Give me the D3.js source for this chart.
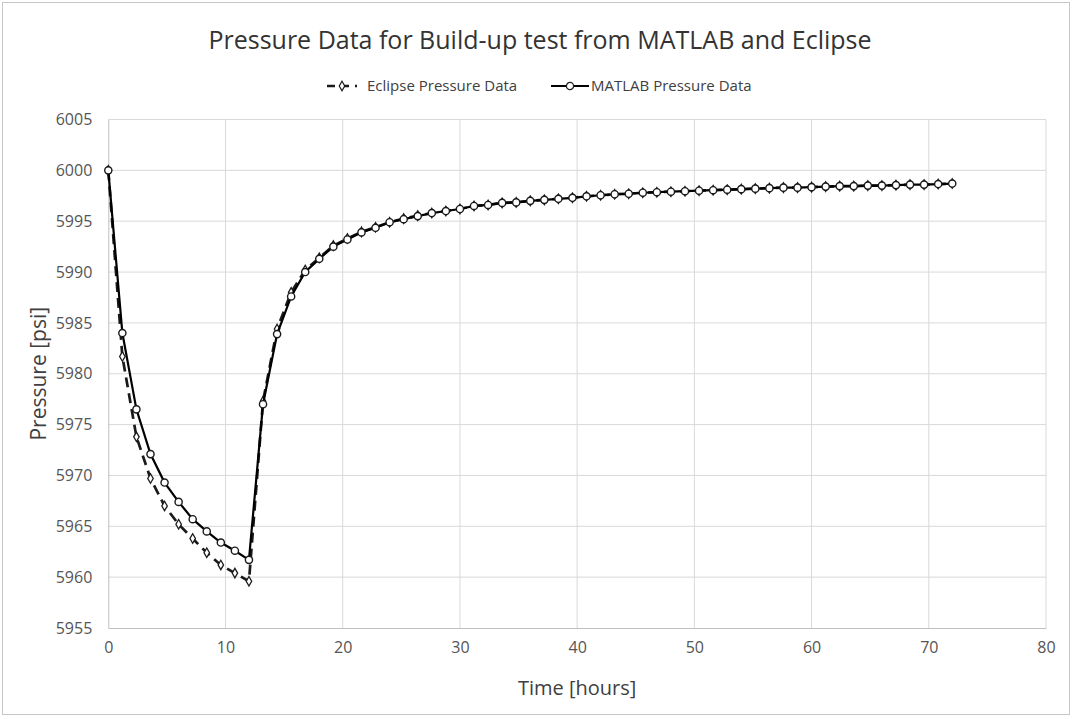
<!DOCTYPE html>
<html>
<head>
<meta charset="utf-8">
<script src="https://cdn.jsdelivr.net/npm/d3@7"></script>
<style>
  body { margin: 0; background: #fff; }
  text { font-family: "Open Sans", "Noto Sans", sans-serif; }
</style>
</head>
<body>
<div id="container"></div>
<script>
// time steps are 1.2 hours, drawdown 0-12 h then build-up to 72 h
let timeHours = [0, 1.2, 2.4, 3.6, 4.8, 6, 7.2, 8.4, 9.6, 10.8, 12,
    13.2, 14.4, 15.6, 16.8, 18, 19.2, 20.4, 21.6, 22.8, 24,
    25.2, 26.4, 27.6, 28.8, 30, 31.2, 32.4, 33.6, 34.8, 36,
    37.2, 38.4, 39.6, 40.8, 42, 43.2, 44.4, 45.6, 46.8, 48,
    49.2, 50.4, 51.6, 52.8, 54, 55.2, 56.4, 57.6, 58.8, 60,
    61.2, 62.4, 63.6, 64.8, 66, 67.2, 68.4, 69.6, 70.8, 72]

let matlabPressure = [6000, 5984.0, 5976.5, 5972.1, 5969.3, 5967.4, 5965.7, 5964.5, 5963.4, 5962.6, 5961.7,
    5977.0, 5983.9, 5987.6, 5990.0, 5991.3, 5992.5, 5993.2, 5993.9, 5994.35, 5994.9,
    5995.2, 5995.5, 5995.8, 5996.0, 5996.2, 5996.5, 5996.6, 5996.8, 5996.85, 5997.0,
    5997.1, 5997.2, 5997.3, 5997.45, 5997.55, 5997.65, 5997.7, 5997.8, 5997.85, 5997.9,
    5997.95, 5998.0, 5998.05, 5998.1, 5998.15, 5998.2, 5998.25, 5998.3, 5998.3, 5998.35,
    5998.4, 5998.45, 5998.45, 5998.5, 5998.5, 5998.55, 5998.6, 5998.6, 5998.65, 5998.7]

let eclipsePressure = [6000, 5981.7, 5973.8, 5969.7, 5967.0, 5965.2, 5963.8, 5962.4, 5961.2, 5960.4, 5959.6,
    5977.3, 5984.4, 5988.0, 5990.2, 5991.4, 5992.6, 5993.3, 5993.95, 5994.4, 5994.9,
    5995.25, 5995.55, 5995.8, 5996.0, 5996.2, 5996.5, 5996.6, 5996.8, 5996.85, 5997.0,
    5997.1, 5997.2, 5997.3, 5997.45, 5997.55, 5997.65, 5997.7, 5997.8, 5997.85, 5997.9,
    5997.95, 5998.0, 5998.05, 5998.1, 5998.15, 5998.2, 5998.25, 5998.3, 5998.3, 5998.35,
    5998.4, 5998.45, 5998.45, 5998.5, 5998.5, 5998.55, 5998.6, 5998.6, 5998.65, 5998.7]

let xTicks = [0, 10, 20, 30, 40, 50, 60, 70, 80]
let yTicks = [5955, 5960, 5965, 5970, 5975, 5980, 5985, 5990, 5995, 6000, 6005]

let chartTitle = "Pressure Data for Build-up test from MATLAB and Eclipse"
let xTitle = "Time [hours]"
let yTitle = "Pressure [psi]"
let seriesNames = ["Eclipse Pressure Data", "MATLAB Pressure Data"]

let width = 1074
let height = 719
let margin = {top: 119.5, right: 28, bottom: 91, left: 108.3}

let svg = d3.select("#container")
    .append("svg")
    .attr("width", width)
    .attr("height", height)

// outer chart border
svg.append("rect")
    .attr("x", 2.5).attr("y", 2.5)
    .attr("width", 1067).attr("height", 712)
    .attr("fill", "#fff")
    .attr("stroke", "#c8c8c8")

let x = d3.scaleLinear()
    .domain([0, 80])
    .range([margin.left, width - margin.right])

let y = d3.scaleLinear()
    .domain([5955, 6005])
    .range([height - margin.bottom, margin.top])

// gridlines
svg.append("g")
    .attr("stroke", "#d9d9d9")
    .attr("stroke-width", 1)
    .call(g => g.selectAll("line.v")
        .data(xTicks.slice(1))
        .join("line")
        .attr("class", "v")
        .attr("x1", d => x(d)).attr("x2", d => x(d))
        .attr("y1", y(6005)).attr("y2", y(5955)))
    .call(g => g.selectAll("line.h")
        .data(yTicks.slice(1))
        .join("line")
        .attr("class", "h")
        .attr("x1", x(0)).attr("x2", x(80))
        .attr("y1", d => y(d)).attr("y2", d => y(d)))

let xAxis = svg.append("g")
    .attr("transform", `translate(0,${y(5955)})`)
    .call(d3.axisBottom(x).tickValues(xTicks).tickSize(0).tickPadding(14))

let yAxis = svg.append("g")
    .attr("transform", `translate(${x(0)},0)`)
    .call(d3.axisLeft(y).tickValues(yTicks).tickFormat(d3.format("d")).tickSize(0).tickPadding(16))

for (let ax of [xAxis, yAxis]) {
    ax.select(".domain").attr("stroke", "#bfbfbf")
    ax.selectAll("text")
        .attr("fill", "#555")
        .style("font-size", "16px")
        .style("font-family", "'Open Sans', sans-serif")
}

let matlabData = timeHours.map((t, i) => ({t: t, p: matlabPressure[i]}))
let eclipseData = timeHours.map((t, i) => ({t: t, p: eclipsePressure[i]}))

let line = d3.line()
    .x(d => x(d.t))
    .y(d => y(d.p))

let diamond = d3.symbol().type(d3.symbolDiamond).size(26)

// Eclipse, dashed with diamonds
svg.append("path")
    .datum(eclipseData)
    .attr("fill", "none")
    .attr("stroke", "#1a1a1a")
    .attr("stroke-width", 2.7)
    .attr("stroke-dasharray", "10,6")
    .attr("d", line)

svg.append("g")
    .selectAll("path")
    .data(eclipseData)
    .join("path")
    .attr("transform", d => `translate(${x(d.t)},${y(d.p)})`)
    .attr("d", diamond)
    .attr("fill", "#fff")
    .attr("stroke", "#1a1a1a")
    .attr("stroke-width", 1.3)

// MATLAB, solid with circles
svg.append("path")
    .datum(matlabData)
    .attr("fill", "none")
    .attr("stroke", "#000")
    .attr("stroke-width", 2.2)
    .attr("d", line)

svg.append("g")
    .selectAll("circle")
    .data(matlabData)
    .join("circle")
    .attr("cx", d => x(d.t))
    .attr("cy", d => y(d.p))
    .attr("r", 3.6)
    .attr("fill", "#fff")
    .attr("stroke", "#1a1a1a")
    .attr("stroke-width", 1.4)

// title
svg.append("text")
    .attr("x", 540)
    .attr("y", 49)
    .attr("text-anchor", "middle")
    .attr("fill", "#333")
    .style("font-size", "25px")
    .text(chartTitle)

// legend
let leg = svg.append("g").attr("transform", "translate(0,86)")
leg.append("line")
    .attr("x1", 327).attr("x2", 357)
    .attr("stroke", "#1a1a1a").attr("stroke-width", 2.6)
    .attr("stroke-dasharray", "8,6")
leg.append("path")
    .attr("transform", "translate(342,0)")
    .attr("d", diamond)
    .attr("fill", "#fff").attr("stroke", "#1a1a1a").attr("stroke-width", 1.2)
leg.append("text")
    .attr("x", 367).attr("y", 5)
    .attr("fill", "#404040")
    .style("font-size", "15px")
    .text(seriesNames[0])
leg.append("line")
    .attr("x1", 551).attr("x2", 589)
    .attr("stroke", "#000").attr("stroke-width", 2)
leg.append("circle")
    .attr("cx", 570).attr("cy", 0).attr("r", 3.6)
    .attr("fill", "#fff").attr("stroke", "#222").attr("stroke-width", 1.3)
leg.append("text")
    .attr("x", 591).attr("y", 5)
    .attr("fill", "#404040")
    .style("font-size", "15px")
    .text(seriesNames[1])

// axis titles
svg.append("text")
    .attr("x", (x(0) + x(80)) / 2)
    .attr("y", 695)
    .attr("text-anchor", "middle")
    .attr("fill", "#404040")
    .style("font-size", "20px")
    .text(xTitle)

svg.append("text")
    .attr("transform", `translate(46,${(y(5955) + y(6005)) / 2}) rotate(-90)`)
    .attr("text-anchor", "middle")
    .attr("fill", "#404040")
    .style("font-size", "21px")
    .text(yTitle)
</script>
</body>
</html>
